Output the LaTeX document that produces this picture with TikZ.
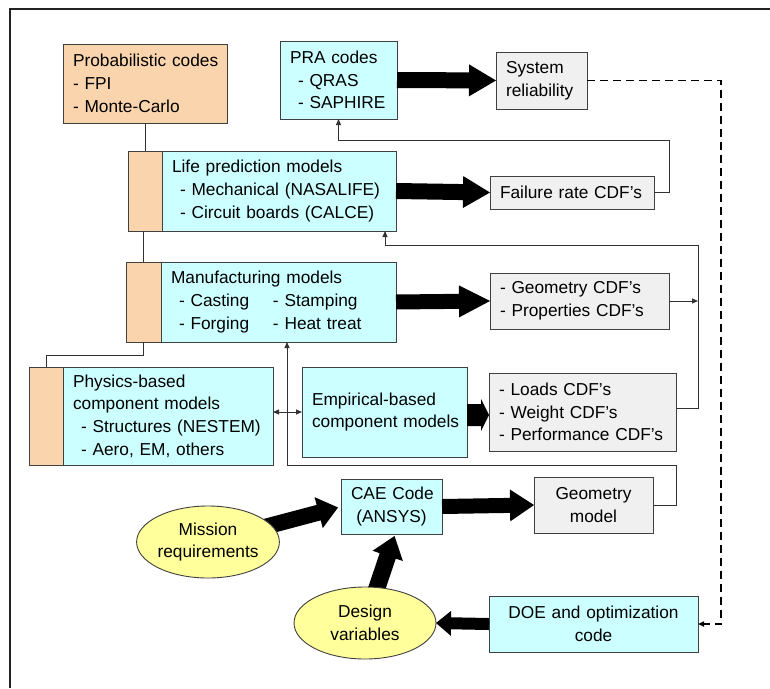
\documentclass[tikz,border=0pt]{standalone}
\usepackage{fontspec}
\setmainfont{Liberation Sans}
\usetikzlibrary{arrows.meta,calc,shapes.geometric,backgrounds}
\definecolor{cyanc}{HTML}{CCFFFF}
\definecolor{peachc}{HTML}{FAD4AC}
\definecolor{grayc}{HTML}{F0F0F0}
\definecolor{yellc}{HTML}{FFFF9C}
\definecolor{bordc}{HTML}{404040}
\definecolor{linec}{HTML}{333333}
\definecolor{framec}{HTML}{222222}
\newcommand\dfont{\fontsize{17.3}{22.7}\selectfont}
% fat arrow: start, end, shaft half width, head half width, head length
\newcommand\fatarr[5]{%
  \coordinate (fA) at (#1);
  \coordinate (fB) at (#2);
  \coordinate (fH) at ($(fB)!#5!(fA)$);
  \fill[black] ($(fA)!#3!90:(fB)$) -- ($(fH)!#3!-90:(fA)$) -- ($(fH)!#4!-90:(fA)$)
    -- (fB) -- ($(fH)!#4!90:(fA)$) -- ($(fH)!#3!90:(fA)$) -- ($(fA)!#3!-90:(fB)$) -- cycle;
}
\begin{document}
\begin{tikzpicture}[x=1pt,y=-1pt,
  base/.style={draw=bordc, line width=0.9pt, inner xsep=10pt, inner ysep=0pt,
    outer sep=0pt, anchor=north west, align=left, font=\dfont, text=black},
  cyanbox/.style={base, fill=cyanc},
  graybox/.style={base, fill=grayc},
  peachbox/.style={base, fill=peachc},
  stripbox/.style={draw=bordc, line width=0.9pt, fill=peachc, outer sep=0pt,
    anchor=north west, inner sep=0pt},
  oval/.style={ellipse, draw=bordc, fill=yellc, line width=0.9pt, inner sep=0pt,
    outer sep=0pt, minimum width=142pt, minimum height=72pt, align=center,
    font=\dfont, text=black},
  conn/.style={draw=linec, line width=1pt},
  arrowed/.style={-{Triangle[length=6pt,width=5pt]}},
  dashconn/.style={draw=black, line width=1.8pt, dash pattern=on 8pt off 5pt}
]
\useasboundingbox (0,0) rectangle (770,688);
\draw[line width=1.5pt, framec] (10,688) -- (10,9) -- (770,9);

% boxes
\node[peachbox, text width=144pt, minimum height=79pt] (prob) at (63,44)
  {\mbox{Probabilistic codes}\\- FPI\\- Monte-Carlo};
\node[cyanbox, text width=97pt, minimum height=78pt] (pra) at (280,41)
  {PRA codes\\\hspace*{8pt}- QRAS\\\hspace*{8pt}- SAPHIRE};
\node[graybox, text width=71pt, minimum height=57pt] (sysrel) at (496,52)
  {System\\\mbox{reliability}};

\node[stripbox, minimum width=34pt, minimum height=80pt] (lifeS) at (128,151) {};
\node[cyanbox, text width=214pt, minimum height=80pt] (life) at (162,151)
  {Life prediction models\\\hspace*{8pt}\mbox{- Mechanical (NASALIFE)}\\\hspace*{8pt}\mbox{- Circuit boards (CALCE)}};
\node[graybox, text width=144pt, minimum height=33pt] (fail) at (490,176)
  {\mbox{Failure rate CDF's}};

\node[stripbox, minimum width=35pt, minimum height=80pt] (manS) at (126,262) {};
\node[cyanbox, text width=215pt, minimum height=80pt] (man) at (161,262)
  {Manufacturing models\\\hspace*{8pt}\makebox[94pt][l]{- Casting}- Stamping\\\hspace*{8pt}\makebox[94pt][l]{- Forging}- Heat treat};
\node[graybox, text width=159pt, minimum height=56pt] (geocdf) at (490,273)
  {- Geometry CDF's\\\mbox{- Properties CDF's}};

\node[stripbox, minimum width=34pt, minimum height=98pt] (physS) at (29,367) {};
\node[cyanbox, text width=190pt, minimum height=98pt] (phys) at (63,367)
  {Physics-based\\\mbox{component models}\\\hspace*{8pt}\mbox{- Structures (NESTEM)}\\\hspace*{8pt}- Aero, EM, others};
\node[cyanbox, text width=145pt, minimum height=90pt] (emp) at (302,367)
  {\mbox{Empirical-based}\\\mbox{component models}};
\node[graybox, text width=167pt, minimum height=78pt] (loads) at (489,373)
  {- Loads CDF's\\- Weight CDF's\\\mbox{- Performance CDF's}};

\node[cyanbox, align=center, text width=81pt, minimum height=55pt] (cae) at (341,479)
  {\mbox{CAE Code}\\(ANSYS)};
\node[graybox, align=center, text width=99pt, minimum height=56pt] (geomod) at (534,477)
  {Geometry\\model};
\node[cyanbox, align=center, text width=189pt, minimum height=56pt] (doe) at (489,596)
  {\mbox{DOE and optimization}\\code};

\node[oval] (mission) at (208,542) {Mission\\requirements};
\node[oval] (design) at (365,623) {Design\\variables};

% fat arrows under the ellipses
\begin{scope}[on background layer]
  \fill[white] (0,0) rectangle (770,688);
  \fatarr{mission.center}{$(cae.west)+(-3,1)$}{8pt}{16pt}{20pt}
  \fatarr{design.center}{$(cae.south)+(3,2)$}{8.5pt}{16pt}{21pt}
\end{scope}

% fat arrows
\fatarr{pra.east}{sysrel.west}{8pt}{16pt}{27pt}
\fatarr{life.east}{fail.west}{8pt}{16pt}{27pt}
\fatarr{man.east}{geocdf.west}{7.5pt}{16pt}{31pt}
\fatarr{$(emp.east)+(0,3)$}{$(loads.west)+(0,3)$}{11pt}{16pt}{8pt}
\fatarr{cae.east}{geomod.west}{7.5pt}{16pt}{24pt}
\fatarr{doe.west}{design.east}{6pt}{12.5pt}{15pt}

% thin connectors
\draw[conn] (prob.south) -- (lifeS.north);
\draw[conn] (manS.north) -- (manS.north |- lifeS.south);
\draw[conn] (manS.south) -- ++(0,13) -| (physS.north);

\coordinate (c1) at (669,140);
\draw[conn, arrowed] (fail.east) -| (c1) -| (pra.south);

\coordinate (r1) at (698,245);
\coordinate (lifein) at ($(life.south east)+(-11,0)$);
\draw[conn, arrowed] ($(loads.east)+(0,-4)$) -| (r1) -| (lifein);
\draw[conn, arrowed] (geocdf.east) -- (geocdf.east -| r1);

\coordinate (r2) at (676,465);
\coordinate (manin) at ($(man.south west)+(126,0)$);
\draw[conn, arrowed] (geomod.east) -| (r2) -| (manin);

\draw[conn, {Triangle[length=6pt,width=5pt]}-{Triangle[length=6pt,width=5pt]}]
  (phys.east |- emp.west) -- (emp.west);

\coordinate (d1) at (721,81);
\draw[dashconn, -{Triangle[length=6pt,width=5pt]}] (sysrel.east) -| (d1) |- (doe.east);
\end{tikzpicture}
\end{document}
